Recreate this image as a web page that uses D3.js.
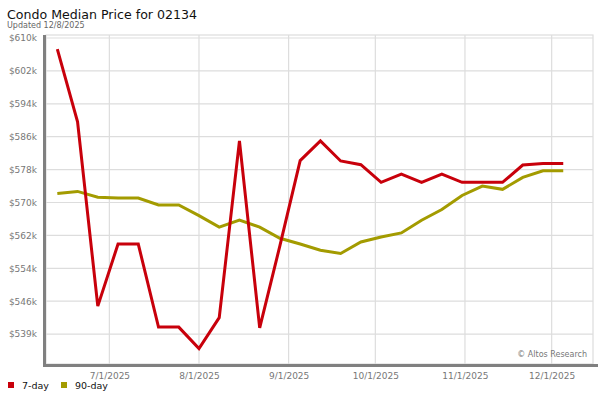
<!DOCTYPE html>
<html>
<head>
<meta charset="utf-8">
<script src="https://cdnjs.cloudflare.com/ajax/libs/d3/7.8.5/d3.min.js"></script>
<style>
  body { margin: 0; background: #fff; }
  svg { font-family: "DejaVu Sans", sans-serif; display: block; }
</style>
</head>
<body>
<svg id="viz" width="600" height="400"></svg>
<script>
// ----------------------- DATA
// weekly points, 6/13/2025 .. 12/5/2025
const dates = [
  '2025-06-13', '2025-06-20', '2025-06-27', '2025-07-04', '2025-07-11', '2025-07-18',
  '2025-07-25', '2025-08-01', '2025-08-08', '2025-08-15', '2025-08-22', '2025-08-29',
  '2025-09-05', '2025-09-12', '2025-09-19', '2025-09-26', '2025-10-03', '2025-10-10',
  '2025-10-17', '2025-10-24', '2025-10-31', '2025-11-07', '2025-11-14', '2025-11-21',
  '2025-11-28', '2025-12-05'
];

const sevenDay = [
  607300, 589600, 544800, 559900, 559900, 539700, 539700, 534500, 542000, 585000,
  539500, 559500, 580200, 585000, 580100, 579200, 574900, 576900, 574900, 576900,
  574900, 574900, 574900, 579100, 579500, 579500
];

const ninetyDay = [
  572200, 572700, 571300, 571100, 571100, 569400, 569400, 566800, 564000, 565700,
  564000, 561300, 559900, 558400, 557600, 560400, 561600, 562600, 565700, 568300,
  571700, 574000, 573200, 576100, 577700, 577700
];

const yTicks = [610000, 602000, 594000, 586000, 578000, 570000, 562000, 554000, 546000, 538000];
const yTickLabels = ['$610k', '$602k', '$594k', '$586k', '$578k', '$570k', '$562k', '$554k', '$546k', '$539k'];

const xTicks = ['2025-07-01', '2025-08-01', '2025-09-01', '2025-10-01', '2025-11-01', '2025-12-01'];
const xTickLabels = ['7/1/2025', '8/1/2025', '9/1/2025', '10/1/2025', '11/1/2025', '12/1/2025'];

const seriesNames = ['7-day', '90-day'];
const seriesColors = ['#c8000b', '#a39b00'];

// ----------------------- SETTINGS
const plot = { left: 46, right: 593, top: 35, bottom: 364 };
const parse = d3.utcParse('%Y-%m-%d');

const x = d3.scaleUtc()
  .domain([new Date(Date.UTC(2025, 5, 9, 2)), new Date(Date.UTC(2025, 11, 15, 7))])
  .range([plot.left, plot.right]);

const y = d3.scaleLinear()
  .domain([530730, 610730])
  .range([plot.bottom, plot.top]);

const svg = d3.select('#viz');

// ----------------------- TITLE
svg.append('text')
  .attr('x', 7).attr('y', 19)
  .attr('font-size', 12.6)
  .attr('fill', '#111')
  .text('Condo Median Price for 02134');

svg.append('text')
  .attr('x', 7).attr('y', 28)
  .attr('font-size', 8)
  .attr('fill', '#666')
  .text('Updated 12/8/2025');

// ----------------------- GRID
svg.append('rect')
  .attr('x', plot.left).attr('y', plot.top)
  .attr('width', plot.right - plot.left).attr('height', plot.bottom - plot.top)
  .attr('fill', '#fff').attr('stroke', '#ddd').attr('stroke-width', 1.2);

svg.append('g')
  .selectAll('line')
  .data(yTicks)
  .enter().append('line')
  .attr('x1', plot.left).attr('x2', plot.right)
  .attr('y1', d => y(d)).attr('y2', d => y(d))
  .attr('stroke', '#ddd').attr('stroke-width', 1.2);

svg.append('g')
  .selectAll('line')
  .data(xTicks)
  .enter().append('line')
  .attr('x1', d => x(parse(d))).attr('x2', d => x(parse(d)))
  .attr('y1', plot.top).attr('y2', plot.bottom)
  .attr('stroke', '#ddd').attr('stroke-width', 1.2);

// ----------------------- AXES
const yAxis = d3.axisLeft(y)
  .tickValues(yTicks)
  .tickSize(0)
  .tickPadding(8)
  .tickFormat((d, i) => yTickLabels[i]);

svg.append('g')
  .attr('transform', `translate(${plot.left - 1}, 0)`)
  .call(yAxis)
  .call(g => g.select('.domain').remove())
  .selectAll('text')
  .attr('font-family', '"DejaVu Sans", sans-serif')
  .attr('font-size', 9)
  .attr('fill', '#777');

const xAxis = d3.axisBottom(x)
  .tickValues(xTicks.map(parse))
  .tickSize(0)
  .tickPadding(7)
  .tickFormat((d, i) => xTickLabels[i]);

svg.append('g')
  .attr('transform', `translate(0, ${plot.bottom + 2})`)
  .call(xAxis)
  .call(g => g.select('.domain').remove())
  .selectAll('text')
  .attr('font-family', '"DejaVu Sans", sans-serif')
  .attr('font-size', 9)
  .attr('fill', '#777');

// thick gray frame lines
svg.append('line')
  .attr('x1', plot.left - 1.5).attr('x2', plot.left - 1.5)
  .attr('y1', plot.top).attr('y2', plot.bottom + 3)
  .attr('stroke', '#808080').attr('stroke-width', 3);

svg.append('line')
  .attr('x1', plot.left - 3).attr('x2', plot.right + 5)
  .attr('y1', plot.bottom + 1.5).attr('y2', plot.bottom + 1.5)
  .attr('stroke', '#808080').attr('stroke-width', 3);

// ----------------------- LINES
const series = [sevenDay, ninetyDay];
const line = d3.line()
  .x((d, i) => x(parse(dates[i])))
  .y(d => y(d));

// draw 90-day first, 7-day on top
[1, 0].forEach(k => {
  svg.append('path')
    .datum(series[k])
    .attr('fill', 'none')
    .attr('stroke', seriesColors[k])
    .attr('stroke-width', 3)
    .attr('stroke-linejoin', 'miter')
    .attr('d', line);
});

// ----------------------- CREDIT
svg.append('text')
  .attr('x', 587).attr('y', 357)
  .attr('text-anchor', 'end')
  .attr('font-size', 8)
  .attr('fill', '#777')
  .text('\u00a9 Altos Research');

// ----------------------- LEGEND
const legendX = [8, 61];
const legend = svg.append('g');
seriesNames.forEach((name, i) => {
  legend.append('rect')
    .attr('x', legendX[i]).attr('y', 382)
    .attr('width', 6).attr('height', 6)
    .attr('fill', seriesColors[i]);
  legend.append('text')
    .attr('x', legendX[i] + 14).attr('y', 389)
    .attr('font-size', 9.5)
    .attr('fill', '#111')
    .text(name);
});
</script>
</body>
</html>
